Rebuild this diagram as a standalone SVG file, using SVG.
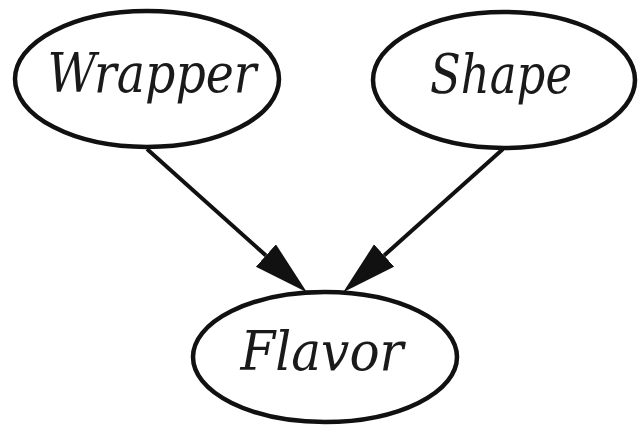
<svg xmlns="http://www.w3.org/2000/svg" width="639" height="428" viewBox="0 0 639 428">
<defs>
<style>
.node ellipse { fill: #ffffff; stroke: #111111; stroke-width: 4.5; }
.node text { font-family: "DejaVu Serif", serif; font-style: italic; font-size: 55px; fill: #1a1a1a; text-anchor: middle; }
.edge { stroke: #111111; stroke-width: 4; fill: none; marker-end: url(#arrow); }
</style>
<marker id="arrow" markerUnits="userSpaceOnUse" markerWidth="60" markerHeight="32" refX="0" refY="15" orient="auto">
<path d="M0,0 L55,15 L0,30 z" fill="#111111"/>
</marker>
</defs>
<rect width="639" height="428" fill="#ffffff"/>
<g id="connectors">
<line class="edge" x1="147" y1="149" x2="265.9" y2="255.5"/>
<line class="edge" x1="503" y1="149" x2="384.1" y2="255.5"/>
</g>
<g id="wrapper" class="node">
<ellipse cx="147" cy="79" rx="132" ry="68"/>
<text x="152" y="92" textLength="209" lengthAdjust="spacingAndGlyphs">Wrapper</text>
</g>
<g id="shape" class="node">
<ellipse cx="504" cy="80" rx="131" ry="68"/>
<text x="501" y="93" textLength="142" lengthAdjust="spacingAndGlyphs">Shape</text>
</g>
<g id="flavor" class="node">
<ellipse cx="325" cy="357" rx="132" ry="65"/>
<text x="322" y="370" textLength="163" lengthAdjust="spacingAndGlyphs">Flavor</text>
</g>
</svg>
